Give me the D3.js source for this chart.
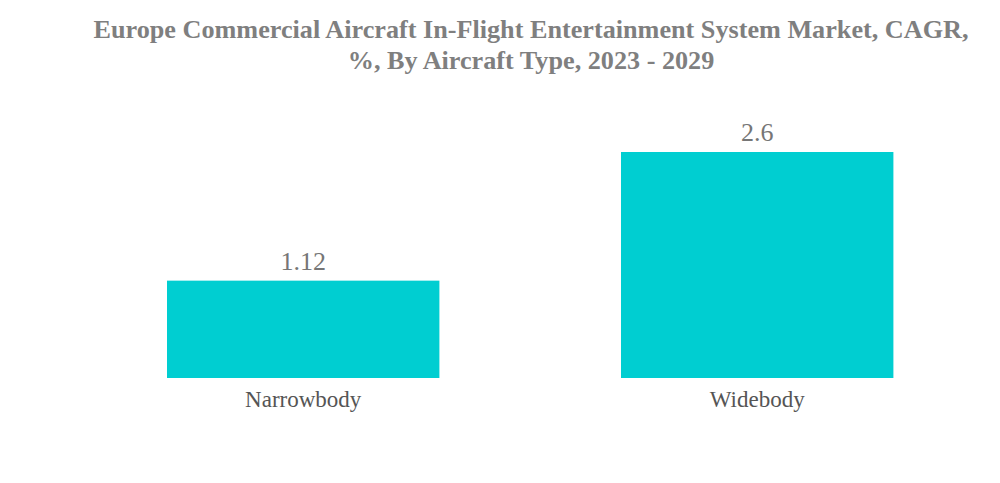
<!DOCTYPE html>
<html>
<head>
<meta charset="utf-8">
<script src="https://cdn.jsdelivr.net/npm/d3@7"></script>
<style>
  body { margin: 0; background: #fff; }
  text { font-family: "Liberation Serif", "Times New Roman", serif; }
</style>
</head>
<body>
<div id="chart"></div>
<script>
// data
var categories = ["Narrowbody", "Widebody"];
var values = [1.12, 2.6];
var titleLines = [
  "Europe Commercial Aircraft In-Flight Entertainment System Market, CAGR,",
  "%, By Aircraft Type, 2023 - 2029"
];

var width = 1000, height = 483;
var baseY = 378, topY = 152;

var svg = d3.select("#chart").append("svg")
  .attr("width", width)
  .attr("height", height);

// title
svg.append("g").selectAll("text")
  .data(titleLines)
  .enter().append("text")
  .attr("x", 531)
  .attr("y", function(d, i) { return 38 + i * 31; })
  .attr("text-anchor", "middle")
  .attr("font-size", "26.2px")
  .attr("font-weight", "bold")
  .attr("fill", "#7f7f7f")
  .text(function(d) { return d; });

var x = d3.scaleBand()
  .domain(categories)
  .range([76.2, 984.2])
  .paddingInner(0.4)
  .paddingOuter(0.2);

var y = d3.scaleLinear()
  .domain([0, 2.6])
  .range([baseY, topY]);

var bars = svg.append("g").selectAll("g")
  .data(categories)
  .enter().append("g");

bars.append("rect")
  .attr("x", function(d) { return x(d); })
  .attr("y", function(d, i) { return y(values[i]); })
  .attr("width", x.bandwidth())
  .attr("height", function(d, i) { return baseY - y(values[i]); })
  .attr("fill", "#00ced1");

bars.append("text")
  .attr("x", function(d) { return x(d) + x.bandwidth() / 2; })
  .attr("y", function(d, i) { return y(values[i]) - 11; })
  .attr("text-anchor", "middle")
  .attr("font-size", "26px")
  .attr("fill", "#767676")
  .text(function(d, i) { return values[i]; });

// category axis labels
var xAxis = d3.axisBottom(x).tickSize(0).tickPadding(13);
var axisG = svg.append("g")
  .attr("transform", "translate(0," + baseY + ")")
  .call(xAxis);
axisG.select(".domain").remove();
axisG.selectAll("text")
  .attr("font-size", "23px")
  .attr("font-family", "Liberation Serif, serif")
  .attr("fill", "#555555");
</script>
</body>
</html>
